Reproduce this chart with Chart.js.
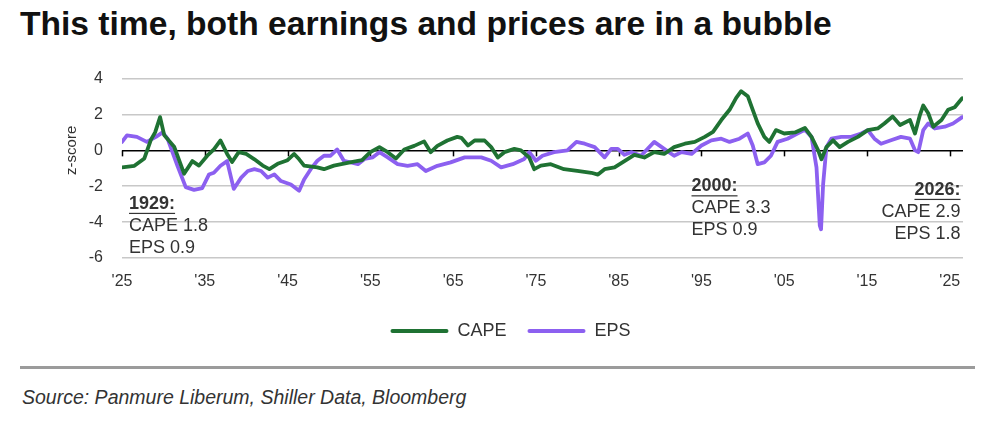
<!DOCTYPE html>
<html>
<head>
<meta charset="utf-8">
<script src="https://cdn.jsdelivr.net/npm/chart.js@4.4.1/dist/chart.umd.min.js"></script>
<style>
  body { margin: 0; background: #fff; width: 995px; height: 429px; overflow: hidden; position: relative; font-family: 'Liberation Sans', Arial, sans-serif; }
  #title { position: absolute; left: 20px; top: 7px; margin: 0; font-size: 33.6px; line-height: 33px; font-weight: bold; color: #111; white-space: nowrap; }
  #chart-wrap { position: absolute; left: 0; top: 50px; width: 995px; height: 300px; }
  #chart { display: block; }
  #rule { position: absolute; left: 20px; top: 366px; width: 955px; height: 3px; background: #9b9b9b; }
  #source { position: absolute; left: 22px; top: 387px; font-size: 19.5px; line-height: 20px; font-style: italic; color: #333; white-space: nowrap; }
</style>
</head>
<body>
<h1 id="title">This time, both earnings and prices are in a bubble</h1>
<div id="chart-wrap"><canvas id="chart" width="995" height="300"></canvas></div>
<div id="rule"></div>
<div id="source">Source: Panmure Liberum, Shiller Data, Bloomberg</div>
<script>
// CAPE z-score
const capeYears = [1925.0, 1926.5, 1927.7, 1928.5, 1929.0, 1929.6, 1930.1, 1931.3, 1932.5, 1933.5,
  1934.3, 1935.3, 1936.1, 1936.9, 1937.7, 1938.3, 1939.1, 1940.0, 1941.0, 1942.0,
  1942.8, 1943.8, 1945.0, 1945.8, 1946.4, 1947.0, 1948.6, 1949.4, 1950.6, 1952.7,
  1954.0, 1955.0, 1956.1, 1957.1, 1958.1, 1959.1, 1960.3, 1961.5, 1962.3, 1963.1,
  1964.3, 1965.5, 1966.0, 1966.8, 1967.6, 1968.8, 1969.6, 1970.4, 1971.2, 1972.4,
  1973.2, 1974.2, 1974.8, 1975.6, 1976.8, 1978.4, 1980.0, 1981.7, 1982.5, 1983.3,
  1984.5, 1985.7, 1986.9, 1988.1, 1989.3, 1990.5, 1991.7, 1993.0, 1994.2, 1995.4,
  1996.4, 1997.4, 1998.4, 1999.2, 1999.8, 2000.6, 2001.2, 2001.8, 2002.6, 2003.2,
  2004.0, 2005.0, 2006.3, 2007.5, 2008.3, 2009.1, 2009.5, 2010.1, 2010.9, 2011.7,
  2012.7, 2013.9, 2015.1, 2016.3, 2017.1, 2018.1, 2019.0, 2020.2, 2020.8, 2021.4,
  2021.8, 2022.4, 2023.0, 2024.0, 2024.8, 2025.6, 2026.5];
const capeValues = [-0.95, -0.86, -0.45, 0.6, 1.0, 1.85, 0.85, 0.2, -1.3, -0.6,
  -0.85, -0.3, 0.05, 0.55, -0.2, -0.65, -0.1, -0.2, -0.5, -0.85,
  -1.05, -0.75, -0.55, -0.2, -0.5, -0.85, -0.95, -1.05, -0.85, -0.65,
  -0.55, -0.1, 0.18, -0.1, -0.45, 0.05, 0.25, 0.5, -0.1, 0.25,
  0.55, 0.75, 0.7, 0.27, 0.55, 0.55, 0.18, -0.4, -0.1, 0.08,
  0.0, -0.4, -1.05, -0.85, -0.77, -1.05, -1.15, -1.25, -1.35, -1.05,
  -0.95, -0.6, -0.25, -0.4, -0.1, -0.2, 0.18, 0.37, 0.47, 0.75,
  1.03, 1.69, 2.26, 2.93, 3.3, 3.02, 2.26, 1.5, 0.75, 0.47,
  1.13, 0.94, 1.0, 1.25, 0.75, 0.0, -0.5, 0.18, 0.56, 0.18,
  0.47, 0.75, 1.13, 1.22, 1.5, 1.89, 1.41, 1.69, 0.94, 1.98,
  2.5, 2.07, 1.32, 1.69, 2.26, 2.4, 2.9];

// EPS z-score
const epsYears = [1925.0, 1925.6, 1926.8, 1928.0, 1929.1, 1929.9, 1930.5, 1931.7, 1932.7, 1933.7,
  1934.7, 1935.5, 1936.1, 1936.9, 1937.7, 1938.5, 1939.4, 1940.2, 1941.0, 1941.8,
  1942.6, 1943.4, 1944.2, 1945.4, 1946.4, 1947.0, 1947.8, 1948.6, 1949.4, 1950.2,
  1951.0, 1951.8, 1953.5, 1954.3, 1955.3, 1956.1, 1957.1, 1958.3, 1959.5, 1960.7,
  1961.7, 1963.1, 1964.7, 1966.4, 1968.4, 1969.6, 1970.8, 1972.2, 1973.6, 1974.2,
  1975.0, 1975.8, 1977.2, 1978.8, 1979.9, 1980.9, 1982.1, 1983.3, 1984.1, 1984.9,
  1985.7, 1986.5, 1987.7, 1989.3, 1990.5, 1991.7, 1992.6, 1993.8, 1995.0, 1996.2,
  1997.4, 1998.4, 1999.6, 2000.6, 2001.2, 2001.8, 2002.6, 2003.4, 2004.2, 2005.4,
  2006.6, 2007.5, 2008.3, 2008.9, 2009.3, 2009.45, 2009.7, 2010.1, 2010.7, 2011.9,
  2013.1, 2014.3, 2015.1, 2015.9, 2016.7, 2017.9, 2019.1, 2020.2, 2020.8, 2021.2,
  2021.8, 2022.4, 2023.2, 2024.4, 2025.4, 2026.5];
const epsValues = [0.47, 0.84, 0.75, 0.47, 0.75, 1.0, 0.65, -0.86, -2.05, -2.2,
  -2.1, -1.35, -1.25, -0.86, -0.6, -2.15, -1.52, -1.15, -1.05, -1.15,
  -1.52, -1.34, -1.71, -1.9, -2.25, -1.62, -1.05, -0.58, -0.3, -0.3,
  0.05, -0.58, -0.77, -0.48, -0.39, -0.1, -0.39, -0.77, -0.86, -0.77,
  -1.15, -0.86, -0.67, -0.39, -0.39, -0.58, -0.95, -0.77, -0.48, -0.1,
  -0.58, -0.3, -0.1, 0.0, 0.47, 0.37, 0.18, -0.39, 0.08, 0.08,
  -0.25, -0.1, -0.3, 0.47, 0.08, -0.3, -0.1, -0.2, 0.27, 0.56,
  0.65, 0.47, 0.65, 0.94, 0.27, -0.77, -0.67, -0.3, 0.47, 0.65,
  0.94, 1.15, 0.75, -0.95, -4.2, -4.4, -1.9, 0.18, 0.65, 0.75,
  0.75, 0.94, 1.13, 0.65, 0.37, 0.56, 0.75, 0.65, 0.0, -0.1,
  1.13, 1.5, 1.22, 1.32, 1.5, 1.85];

const xTickYears = [1925, 1935, 1945, 1955, 1965, 1975, 1985, 1995, 2005, 2015, 2025];
const xTickLabels = ["'25", "'35", "'45", "'55", "'65", "'75", "'85", "'95", "'05", "'15", "'25"];
const yTickValues = [4, 2, 0, -2, -4, -6];

const notes = [
  { lines: ['1929:', 'CAPE 1.8', 'EPS 0.9'], year: 1925.85, value: -2.98, align: 'left' },
  { lines: ['2000:', 'CAPE 3.3', 'EPS 0.9'], year: 1993.8, value: -2.0, align: 'left' },
  { lines: ['2026:', 'CAPE 2.9', 'EPS 1.8'], year: 2026.3, value: -2.2, align: 'right' }
];

const green = '#1f7233';
const purple = '#8c60f0';
const textColor = '#333333';
const fontFamily = "'Liberation Sans', Arial, sans-serif";

const toPoints = (xs, ys) => xs.map((x, i) => ({ x: x, y: ys[i] }));

const zeroTicks = {
  id: 'zeroTicks',
  beforeDatasetsDraw(chart) {
    const { ctx, scales: { x, y } } = chart;
    const y0 = y.getPixelForValue(0);
    ctx.save();
    ctx.strokeStyle = '#000';
    ctx.lineWidth = 1.5;
    xTickYears.forEach(yr => {
      const px = Math.round(x.getPixelForValue(yr)) + 0.5;
      ctx.beginPath();
      ctx.moveTo(px, y0);
      ctx.lineTo(px, y0 + 6);
      ctx.stroke();
    });
    ctx.restore();
  }
};

const noteText = {
  id: 'noteText',
  afterDraw(chart) {
    const { ctx, scales: { x, y } } = chart;
    ctx.save();
    ctx.fillStyle = textColor;
    ctx.textBaseline = 'middle';

    // y axis title, centred on the zero line
    ctx.save();
    ctx.translate(72, y.getPixelForValue(0));
    ctx.rotate(-Math.PI / 2);
    ctx.textAlign = 'center';
    ctx.font = '15px ' + fontFamily;
    ctx.fillText('z-score', 0, 0);
    ctx.restore();

    notes.forEach(n => {
      const px = x.getPixelForValue(n.year);
      let py = y.getPixelForValue(n.value);
      ctx.textAlign = n.align;
      n.lines.forEach((line, i) => {
        ctx.font = (i === 0 ? 'bold ' : '') + '18px ' + fontFamily;
        ctx.fillText(line, px, py);
        if (i === 0) {
          const w = ctx.measureText(line).width;
          const x0 = n.align === 'right' ? px - w : px;
          ctx.fillRect(x0, py + 9, w, 1.2);
        }
        py += 22;
      });
    });
    ctx.restore();
  }
};

new Chart(document.getElementById('chart'), {
  type: 'line',
  data: {
    datasets: [
      { label: 'CAPE', data: toPoints(capeYears, capeValues), borderColor: green, backgroundColor: green },
      { label: 'EPS', data: toPoints(epsYears, epsValues), borderColor: purple, backgroundColor: purple }
    ]
  },
  options: {
    responsive: false,
    animation: false,
    layout: { padding: { top: 24, right: 32, left: 58, bottom: 0 } },
    elements: {
      point: { radius: 0 },
      line: { borderWidth: 3.8, tension: 0, borderJoinStyle: 'round', borderCapStyle: 'round' }
    },
    plugins: {
      tooltip: { enabled: false },
      legend: {
        position: 'bottom',
        labels: {
          boxWidth: 58,
          boxHeight: 4,
          padding: 21,
          color: textColor,
          font: { family: fontFamily, size: 18 },
          useBorderRadius: true,
          borderRadius: 2,
          generateLabels(chart) {
            return Chart.defaults.plugins.legend.labels.generateLabels(chart).map(item => {
              item.lineWidth = 0;
              return item;
            });
          }
        }
      }
    },
    scales: {
      x: {
        type: 'linear',
        min: 1925,
        max: 2026.6,
        afterBuildTicks(scale) { scale.ticks = xTickYears.map(v => ({ value: v })); },
        afterFit(scale) { scale.height = 43; },
        grid: { display: false },
        border: { display: false },
        ticks: {
          autoSkip: false,
          maxRotation: 0,
          padding: 6,
          color: textColor,
          font: { family: fontFamily, size: 16 },
          callback: v => xTickLabels[xTickYears.indexOf(v)]
        }
      },
      y: {
        min: -6,
        max: 4,
        afterBuildTicks(scale) { scale.ticks = yTickValues.map(v => ({ value: v })); },
        afterFit(scale) { scale.width = 64; },
        border: { display: false },
        grid: {
          drawTicks: false,
          color: c => (c.tick && c.tick.value === 0 ? '#000000' : '#c8c8c8'),
          lineWidth: 1.5
        },
        ticks: {
          padding: 19,
          color: textColor,
          font: { family: fontFamily, size: 16 },
          callback: v => String(v)
        }
      }
    }
  },
  plugins: [zeroTicks, noteText]
});
</script>
</body>
</html>
